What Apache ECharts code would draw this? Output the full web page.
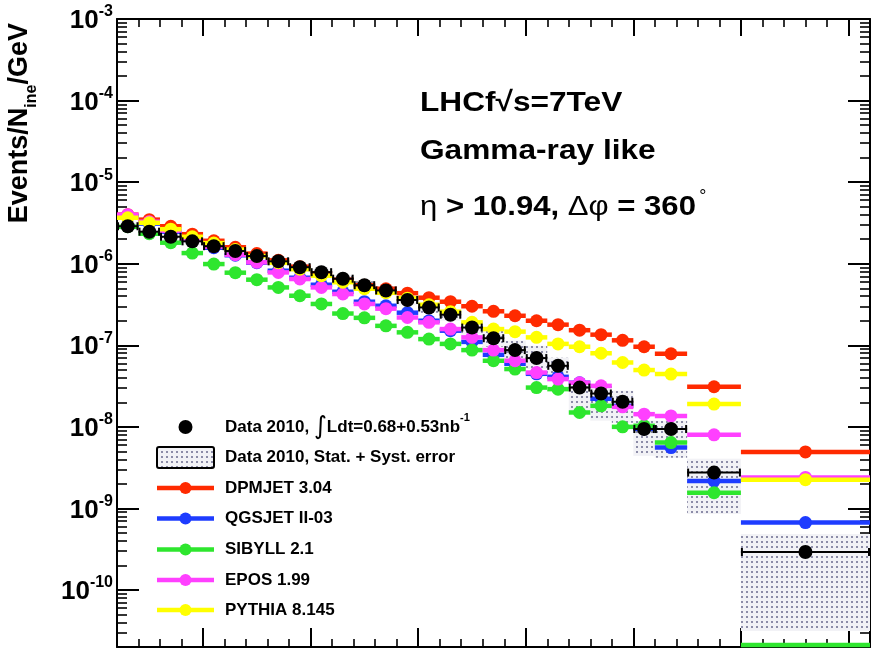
<!DOCTYPE html>
<html>
<head>
<meta charset="utf-8">
<script src="https://cdn.jsdelivr.net/npm/echarts@6/dist/echarts.min.js"></script>
<style>
  html, body { margin: 0; padding: 0; background: #fff; }
  #chart { width: 875px; height: 652px; }
</style>
</head>
<body>
<div id="chart"></div>
<script>
// Energy bins [GeV]
const binLow  = [100, 200, 300, 400, 500, 600, 700, 800, 900, 1000, 1100, 1200, 1300, 1400,
                 1500, 1600, 1700, 1800, 1900, 2000, 2100, 2200, 2300, 2400, 2500, 2600, 2750, 3000];
const binHigh = [200, 300, 400, 500, 600, 700, 800, 900, 1000, 1100, 1200, 1300, 1400, 1500,
                 1600, 1700, 1800, 1900, 2000, 2100, 2200, 2300, 2400, 2500, 2600, 2750, 3000, 3600];

// Measured spectrum, Events/N_ine/GeV
const data2010 = [2.88e-6, 2.47e-6, 2.14e-6, 1.88e-6, 1.64e-6, 1.43e-6, 1.24e-6, 1.07e-6, 9.06e-7, 7.87e-7,
                  6.55e-7, 5.45e-7, 4.70e-7, 3.59e-7, 2.91e-7, 2.37e-7, 1.65e-7, 1.22e-7, 8.73e-8, 6.97e-8,
                  5.60e-8, 3.03e-8, 2.56e-8, 2.03e-8, 9.4e-9, 9.4e-9, 2.75e-9, 2.92e-10];
// Stat. + syst. error band (upper / lower edge)
const errHigh = [3.17e-6, 2.72e-6, 2.35e-6, 2.07e-6, 1.80e-6, 1.57e-6, 1.37e-6, 1.18e-6, 1.00e-6, 8.7e-7,
                 7.3e-7, 6.1e-7, 5.3e-7, 4.1e-7, 3.3e-7, 2.75e-7, 1.94e-7, 1.51e-7, 1.14e-7, 9.86e-8,
                 7.03e-8, 3.66e-8, 3.2e-8, 2.77e-8, 1.19e-8, 1.19e-8, 4.05e-9, 4.87e-10];
const errLow  = [2.59e-6, 2.22e-6, 1.93e-6, 1.69e-6, 1.48e-6, 1.29e-6, 1.11e-6, 9.6e-7, 8.1e-7, 7.0e-7,
                 5.8e-7, 4.8e-7, 4.1e-7, 3.1e-7, 2.5e-7, 2.0e-7, 1.35e-7, 9.6e-8, 6.45e-8, 5.15e-8,
                 3.99e-8, 1.5e-8, 1.19e-8, 1.12e-8, 4.41e-9, 4.17e-9, 8.57e-10, 3.14e-11];

// Model predictions
const dpmjet = [3.99e-6, 3.47e-6, 2.88e-6, 2.30e-6, 1.91e-6, 1.59e-6, 1.33e-6, 1.10e-6, 9.19e-7, 7.64e-7,
                6.37e-7, 5.45e-7, 4.93e-7, 4.35e-7, 3.83e-7, 3.42e-7, 3.01e-7, 2.61e-7, 2.30e-7, 2.00e-7,
                1.79e-7, 1.53e-7, 1.35e-7, 1.15e-7, 9.6e-8, 7.87e-8, 3.10e-8, 4.93e-9];
const qgsjet = [3.78e-6, 3.10e-6, 2.47e-6, 1.97e-6, 1.57e-6, 1.27e-6, 1.03e-6, 8.2e-7, 6.73e-7, 5.52e-7,
                4.53e-7, 3.42e-7, 3.05e-7, 2.51e-7, 2.00e-7, 1.51e-7, 1.10e-7, 7.64e-8, 5.93e-8, 4.47e-8,
                4.10e-8, 3.47e-8, 2.21e-8, 1.81e-8, 9.44e-9, 5.57e-9, 2.17e-9, 6.70e-10];
const sibyll = [2.84e-6, 2.33e-6, 1.81e-6, 1.35e-6, 9.9e-7, 7.76e-7, 6.37e-7, 5.12e-7, 4.05e-7, 3.21e-7,
                2.45e-7, 2.17e-7, 1.73e-7, 1.44e-7, 1.19e-7, 1.04e-7, 8.73e-8, 6.46e-8, 5.11e-8, 3.03e-8,
                2.90e-8, 1.50e-8, 1.81e-8, 1.0e-8, 1.03e-8, 6.41e-9, 1.56e-9, 1.0e-11];
const epos   = [3.99e-6, 3.27e-6, 2.54e-6, 2.03e-6, 1.62e-6, 1.29e-6, 1.04e-6, 7.82e-7, 6.49e-7, 5.12e-7,
                4.25e-7, 3.21e-7, 2.81e-7, 2.19e-7, 1.91e-7, 1.58e-7, 1.25e-7, 8.73e-8, 6.46e-8, 4.63e-8,
                3.85e-8, 3.47e-8, 3.18e-8, 1.76e-8, 1.43e-8, 1.36e-8, 7.98e-9, 2.40e-9];
const pythia = [3.66e-6, 3.18e-6, 2.65e-6, 2.14e-6, 1.79e-6, 1.49e-6, 1.24e-6, 1.03e-6, 8.57e-7, 7.13e-7,
                5.93e-7, 4.93e-7, 4.41e-7, 3.78e-7, 3.14e-7, 2.58e-7, 1.91e-7, 1.58e-7, 1.47e-7, 1.25e-7,
                1.04e-7, 9.6e-8, 7.98e-8, 6.15e-8, 4.97e-8, 4.44e-8, 1.90e-8, 2.25e-9];

// Axis ticks
const yDecades = [1e-10, 1e-9, 1e-8, 1e-7, 1e-6, 1e-5, 1e-4, 1e-3];
const xMajor = [500, 1000, 1500, 2000, 2500, 3000, 3500];

const X_MIN = 100, X_MAX = 3600, Y_MIN = 2e-11, Y_MAX = 1e-3;

const xMinor = [];
for (let e = 200; e < X_MAX; e += 100) if (e % 500 !== 0) xMinor.push(e);
const yMinor = [];
for (let p = -11; p <= -4; p++) {
  for (let k = 2; k <= 9; k++) {
    const v = k * Math.pow(10, p);
    if (v > Y_MIN && v < Y_MAX) yMinor.push(v);
  }
}

const COLORS = {
  dpmjet: '#ff2a00',
  qgsjet: '#1e3cff',
  sibyll: '#2ee62e',
  epos:   '#ff40ff',
  pythia: '#ffff00'
};
const FONT = '"Liberation Sans", Arial, Helvetica, sans-serif';

// dotted fill used for the error band
function dotTile() {
  const c = document.createElement('canvas');
  c.width = 5; c.height = 5;
  const g = c.getContext('2d');
  g.fillStyle = '#f2f2f6';
  g.fillRect(0, 0, 5, 5);
  g.fillStyle = '#8c8ca8';
  g.fillRect(1, 1, 2, 2);
  return c;
}
const dotPattern = { image: dotTile(), repeat: 'repeat' };

function binRows(values) {
  return binLow.map((lo, i) => [lo, binHigh[i], values[i]]);
}

// horizontal bin bar with a circle marker at the bin centre
function modelRenderer(color, lw, r) {
  return function (params, api) {
    const lo = api.value(0), hi = api.value(1), v = api.value(2);
    const a = api.coord([lo, v]), b = api.coord([hi, v]);
    const cs = params.coordSys;
    const floor = cs.y + cs.height - 2;
    const clamped = a[1] > floor;
    const y = clamped ? floor : a[1];
    const kids = [{
      type: 'line',
      shape: { x1: a[0], y1: y, x2: b[0], y2: y },
      style: { stroke: color, lineWidth: lw }
    }];
    if (!clamped) {
      kids.push({ type: 'circle', shape: { cx: (a[0] + b[0]) / 2, cy: y, r: r }, style: { fill: color } });
    }
    return { type: 'group', children: kids };
  };
}

function dataRenderer(params, api) {
  const lo = api.value(0), hi = api.value(1), v = api.value(2);
  const a = api.coord([lo, v]), b = api.coord([hi, v]);
  const y = a[1];
  return {
    type: 'group',
    children: [
      { type: 'line', shape: { x1: a[0], y1: y, x2: b[0], y2: y }, style: { stroke: '#000', lineWidth: 2 } },
      { type: 'line', shape: { x1: a[0] + 1, y1: y - 4, x2: a[0] + 1, y2: y + 4 }, style: { stroke: '#000', lineWidth: 2 } },
      { type: 'line', shape: { x1: b[0] - 1, y1: y - 4, x2: b[0] - 1, y2: y + 4 }, style: { stroke: '#000', lineWidth: 2 } },
      { type: 'circle', shape: { cx: (a[0] + b[0]) / 2, cy: y, r: 7 }, style: { fill: '#000' } }
    ]
  };
}

function bandRenderer(params, api) {
  const lo = api.value(0), hi = api.value(1);
  const top = api.coord([lo, api.value(3)]);
  const bot = api.coord([hi, api.value(2)]);
  return {
    type: 'rect',
    shape: { x: top[0], y: top[1], width: bot[0] - top[0], height: bot[1] - top[1] },
    style: { fill: dotPattern }
  };
}

const baseX = { type: 'value', min: X_MIN, max: X_MAX, splitLine: { show: false }, axisLabel: { show: false } };
const baseY = { type: 'log', logBase: 10, min: Y_MIN, max: Y_MAX, splitLine: { show: false } };
const frameLine = { show: true, lineStyle: { color: '#000', width: 2 } };

const legendText = (y, text) => ({
  type: 'text', x: 225, y: y,
  style: { text: text, font: 'bold 17px ' + FONT, fill: '#000', verticalAlign: 'middle' }
});
const legendLine = (y, color) => ([
  { type: 'line', shape: { x1: 157, y1: y, x2: 214, y2: y }, style: { stroke: color, lineWidth: 4.5 } },
  { type: 'circle', shape: { cx: 185.5, cy: y, r: 6 }, style: { fill: color } }
]);

const chart = echarts.init(document.getElementById('chart'), null, { renderer: 'canvas' });

chart.setOption({
  animation: false,
  backgroundColor: '#fff',
  grid: { left: 117, top: 19, width: 753, height: 628, containLabel: false },
  xAxis: [
    Object.assign({}, baseX, { position: 'bottom', axisLine: frameLine,
      axisTick: { show: true, inside: true, length: 19, customValues: xMajor, lineStyle: { color: '#000', width: 2 } } }),
    Object.assign({}, baseX, { position: 'bottom', axisLine: { show: false },
      axisTick: { show: true, inside: true, length: 8, customValues: xMinor, lineStyle: { color: '#000', width: 1.6 } } }),
    Object.assign({}, baseX, { position: 'top', axisLine: frameLine,
      axisTick: { show: true, inside: true, length: 17, customValues: xMajor, lineStyle: { color: '#000', width: 2 } } }),
    Object.assign({}, baseX, { position: 'top', axisLine: { show: false },
      axisTick: { show: true, inside: true, length: 8, customValues: xMinor, lineStyle: { color: '#000', width: 1.6 } } })
  ],
  yAxis: [
    Object.assign({}, baseY, { position: 'left', axisLine: frameLine,
      axisTick: { show: true, inside: true, length: 22, customValues: yDecades, lineStyle: { color: '#000', width: 2 } },
      axisLabel: {
        show: true, margin: 4, customValues: yDecades,
        formatter: function (v) { return '{b|10}{s|' + Math.round(Math.log10(v)) + '}'; },
        rich: {
          b: { fontFamily: FONT, fontWeight: 'bold', fontSize: 26, lineHeight: 30, color: '#000', verticalAlign: 'bottom' },
          s: { fontFamily: FONT, fontWeight: 'bold', fontSize: 16, lineHeight: 16, color: '#000', verticalAlign: 'top' }
        }
      } }),
    Object.assign({}, baseY, { position: 'left', axisLine: { show: false }, axisLabel: { show: false },
      axisTick: { show: true, inside: true, length: 10, customValues: yMinor, lineStyle: { color: '#000', width: 1.6 } } }),
    Object.assign({}, baseY, { position: 'right', axisLine: frameLine, axisLabel: { show: false },
      axisTick: { show: true, inside: true, length: 22, customValues: yDecades, lineStyle: { color: '#000', width: 2 } } }),
    Object.assign({}, baseY, { position: 'right', axisLine: { show: false }, axisLabel: { show: false },
      axisTick: { show: true, inside: true, length: 10, customValues: yMinor, lineStyle: { color: '#000', width: 1.6 } } })
  ],
  series: [
    {
      name: 'Data 2010, Stat. + Syst. error', type: 'custom', renderItem: bandRenderer,
      data: binLow.map((lo, i) => [lo, binHigh[i], errLow[i], errHigh[i]]),
      encode: { x: [0, 1], y: [2, 3] }, z: 1
    },
    { name: 'DPMJET 3.04', type: 'custom', renderItem: modelRenderer(COLORS.dpmjet, 4.5, 6.5),
      data: binRows(dpmjet), encode: { x: [0, 1], y: 2 }, z: 2 },
    { name: 'QGSJET II-03', type: 'custom', renderItem: modelRenderer(COLORS.qgsjet, 4.5, 6.5),
      data: binRows(qgsjet), encode: { x: [0, 1], y: 2 }, z: 3 },
    { name: 'SIBYLL 2.1', type: 'custom', renderItem: modelRenderer(COLORS.sibyll, 4.5, 6.5),
      data: binRows(sibyll), encode: { x: [0, 1], y: 2 }, z: 4 },
    { name: 'EPOS 1.99', type: 'custom', renderItem: modelRenderer(COLORS.epos, 4.5, 6.5),
      data: binRows(epos), encode: { x: [0, 1], y: 2 }, z: 5 },
    { name: 'PYTHIA 8.145', type: 'custom', renderItem: modelRenderer(COLORS.pythia, 4.5, 6.5),
      data: binRows(pythia), encode: { x: [0, 1], y: 2 }, z: 6 },
    { name: 'Data 2010', type: 'custom', renderItem: dataRenderer,
      data: binRows(data2010), encode: { x: [0, 1], y: 2 }, z: 7 }
  ],
  graphic: [
    // y-axis title
    {
      type: 'text', x: 23, y: 23, rotation: Math.PI / 2,
      style: {
        text: '{a|Events/N}{sub|ine}{a|/GeV}',
        align: 'right', verticalAlign: 'middle',
        rich: {
          a: { fontFamily: FONT, fontWeight: 'bold', fontSize: 27, lineHeight: 30, verticalAlign: 'top', fill: '#000' },
          sub: { fontFamily: FONT, fontWeight: 'bold', fontSize: 16, lineHeight: 33, verticalAlign: 'bottom', fill: '#000' }
        }
      }
    },
    // run / selection description
    {
      type: 'text', x: 420, y: 103, scaleX: 1.13,
      style: { text: 'LHCf\u221As=7TeV', font: 'bold 28px ' + FONT, fill: '#000', verticalAlign: 'middle' }
    },
    {
      type: 'text', x: 420, y: 151, scaleX: 1.13,
      style: { text: 'Gamma-ray like', font: 'bold 28px ' + FONT, fill: '#000', verticalAlign: 'middle' }
    },
    {
      type: 'text', x: 420, y: 205, scaleX: 1.11,
      style: {
        text: '{g|\u03B7}{b| > 10.94, }{g|\u0394\u03C6}{b| = 360}{d|\u00B0}',
        verticalAlign: 'middle',
        rich: {
          g: { fontFamily: FONT, fontSize: 28, lineHeight: 32, verticalAlign: 'bottom', fill: '#000' },
          b: { fontFamily: FONT, fontWeight: 'bold', fontSize: 28, lineHeight: 32, verticalAlign: 'bottom', fill: '#000' },
          d: { fontFamily: FONT, fontSize: 16, lineHeight: 16, verticalAlign: 'top', fill: '#000', padding: [0, 0, 0, 3] }
        }
      }
    },
    // legend
    {
      type: 'group', children: [
        { type: 'circle', shape: { cx: 185.5, cy: 427, r: 7 }, style: { fill: '#000' } },
        { type: 'text', x: 225, y: 427, style: {
            text: '{t|Data 2010, }{i|\u222B}{t|Ldt=0.68+0.53nb}{s|-1}', verticalAlign: 'middle',
            rich: {
              t: { fontFamily: FONT, fontWeight: 'bold', fontSize: 17, lineHeight: 22, verticalAlign: 'middle', fill: '#000' },
              i: { fontFamily: '"DejaVu Sans", sans-serif', fontSize: 25, lineHeight: 30, verticalAlign: 'middle', fill: '#000' },
              s: { fontFamily: FONT, fontWeight: 'bold', fontSize: 11, lineHeight: 14, verticalAlign: 'top', fill: '#000' }
            }
        } },
        { type: 'rect', shape: { x: 157, y: 447, width: 57, height: 21, r: 2 },
          style: { fill: dotPattern, stroke: '#000', lineWidth: 2 } },
        legendText(457.5, 'Data 2010, Stat. + Syst. error'),
        ...legendLine(488, COLORS.dpmjet), legendText(488, 'DPMJET 3.04'),
        ...legendLine(518.5, COLORS.qgsjet), legendText(518.5, 'QGSJET II-03'),
        ...legendLine(549.5, COLORS.sibyll), legendText(549.5, 'SIBYLL 2.1'),
        ...legendLine(580, COLORS.epos), legendText(580, 'EPOS 1.99'),
        ...legendLine(610, COLORS.pythia), legendText(610, 'PYTHIA 8.145')
      ]
    }
  ]
});
</script>
</body>
</html>
